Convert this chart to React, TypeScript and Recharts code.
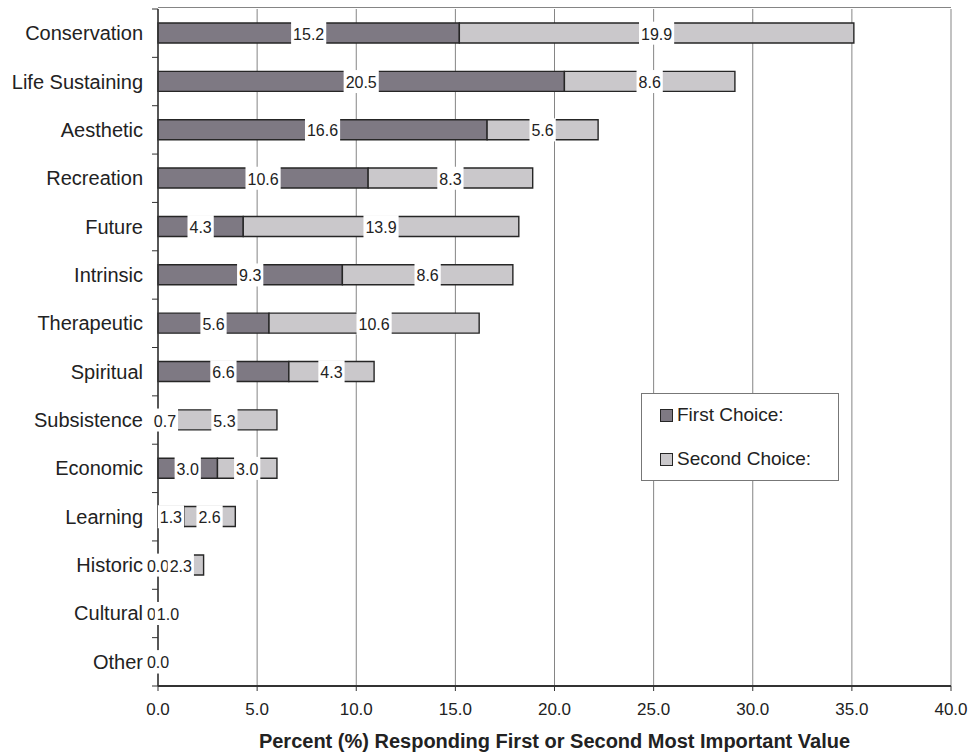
import React from 'react';
import { ComposedChart, Bar, Scatter, XAxis, YAxis, CartesianGrid, Legend } from 'recharts';

const CATEGORIES = [
  'Conservation', 'Life Sustaining', 'Aesthetic', 'Recreation', 'Future', 'Intrinsic', 'Therapeutic',
  'Spiritual', 'Subsistence', 'Economic', 'Learning', 'Historic', 'Cultural', 'Other',
];
const FIRST_CHOICE = [15.2, 20.5, 16.6, 10.6, 4.3, 9.3, 5.6, 6.6, 0.7, 3.0, 1.3, 0.0, 0.0, 0.0];
const SECOND_CHOICE = [19.9, 8.6, 5.6, 8.3, 13.9, 8.6, 10.6, 4.3, 5.3, 3.0, 2.6, 2.3, 1.0, 0.0];
const X_TICKS = [0, 5, 10, 15, 20, 25, 30, 35, 40];

const FIRST_COLOR = '#7e7983';
const SECOND_COLOR = '#cac8cb';
const EDGE = '#262626';
const FONT = '"Liberation Sans", Arial, Helvetica, sans-serif';
const NARROW = '"Liberation Sans Narrow", "Arial Narrow", "Liberation Sans", Arial, sans-serif';

const W = 970;
const H = 752;
const MARGIN = { top: 9, right: 19, bottom: 0, left: 0 };
const Y_AXIS_W = 158;
const X_AXIS_H = 66;
const PLOT_H = H - MARGIN.top - MARGIN.bottom - X_AXIS_H;
const BAND = PLOT_H / CATEGORIES.length;

// label anchors sit in the middle of each segment
const data = CATEGORIES.map((name, i) => ({
  name,
  first: FIRST_CHOICE[i],
  second: SECOND_CHOICE[i],
  mid1: FIRST_CHOICE[i] / 2,
  mid2: FIRST_CHOICE[i] + SECOND_CHOICE[i] / 2,
}));

const boxLabel = (key: 'first' | 'second') => (props: any) => {
  const { cx, cy, payload } = props;
  const txt = Number(payload[key]).toFixed(1);
  const tw = (txt.length - 1) * 8.9 + 4.45 + 4;
  return (
    <g>
      <rect x={cx - tw / 2} y={cy - 11.5} width={tw} height={23} fill="#fff" />
      <text x={cx} y={cy + 1} textAnchor="middle" dominantBaseline="central" fontSize={16} fontFamily={FONT} fill="#222">
        {txt}
      </text>
    </g>
  );
};

const CatTick = (props: any) => {
  const { x, y, payload, index } = props;
  const last = index === CATEGORIES.length - 1;
  return (
    <g>
      <line x1={x + 9} x2={x + 15} y1={y - BAND / 2} y2={y - BAND / 2} stroke="#333" strokeWidth={1} />
      {last && <line x1={x + 9} x2={x + 15} y1={y + BAND / 2} y2={y + BAND / 2} stroke="#333" strokeWidth={1} />}
      <text x={x} y={y} textAnchor="end" dominantBaseline="central" fontSize={20} fontFamily={FONT} fill="#222">
        {payload.value}
      </text>
    </g>
  );
};

const LegendBox = () => (
  <div style={{ width: 198, height: 88, border: '1px solid #777', background: '#fff', fontFamily: FONT, fontSize: 19, color: '#222', boxSizing: 'border-box' }}>
    {[
      { label: 'First Choice:', color: FIRST_COLOR },
      { label: 'Second Choice:', color: SECOND_COLOR },
    ].map((it, i) => (
      <div key={i} style={{ position: 'absolute', left: 19, top: i === 0 ? 11 : 55, display: 'flex', alignItems: 'center', lineHeight: '22px' }}>
        <span style={{ display: 'inline-block', width: 11, height: 11, background: it.color, border: `1.5px solid ${EDGE}`, marginRight: 4 }} />
        {it.label}
      </div>
    ))}
  </div>
);

export default function App() {
  return (
    <div style={{ position: 'absolute', left: 0, top: 0, width: W, height: H, background: '#fff' }}>
      <ComposedChart width={W} height={H} data={data} layout="vertical" margin={MARGIN} barSize={20}>
        <CartesianGrid horizontal={true} vertical={true} horizontalPoints={[7.5]} stroke="#858585" strokeWidth={1} />
        <XAxis
          type="number"
          domain={[0, 40]}
          ticks={X_TICKS}
          interval={0}
          height={X_AXIS_H}
          tickFormatter={(v: number) => v.toFixed(1)}
          tick={{ fontSize: 17, fontFamily: NARROW, fill: '#222' }}
          tickSize={5}
          tickMargin={12}
          axisLine={{ stroke: '#333', strokeWidth: 2 }}
          tickLine={{ stroke: '#333' }}
          label={{ value: 'Percent (%) Responding First or Second Most Important Value', position: 'insideBottom', offset: 4, fontSize: 20, fontWeight: 'bold', fontFamily: NARROW, fill: '#222' }}
        />
        <YAxis
          type="category"
          dataKey="name"
          width={Y_AXIS_W}
          interval={0}
          tickLine={false}
          tickSize={0}
          tickMargin={15}
          axisLine={{ stroke: '#333', strokeWidth: 1.5 }}
          tick={<CatTick />}
        />
        <Legend verticalAlign="middle" align="center" layout="horizontal" content={<LegendBox />}
          wrapperStyle={{ left: 641, top: 393, width: 198, height: 88 }} />
        <Bar dataKey="first" stackId="a" fill={FIRST_COLOR} stroke={EDGE} strokeWidth={1.4} isAnimationActive={false} />
        <Bar dataKey="second" stackId="a" fill={SECOND_COLOR} stroke={EDGE} strokeWidth={1.4} isAnimationActive={false} />
        <Scatter dataKey="mid1" shape={boxLabel('first')} isAnimationActive={false} legendType="none" />
        <Scatter dataKey="mid2" shape={boxLabel('second')} isAnimationActive={false} legendType="none" />
      </ComposedChart>
    </div>
  );
}
